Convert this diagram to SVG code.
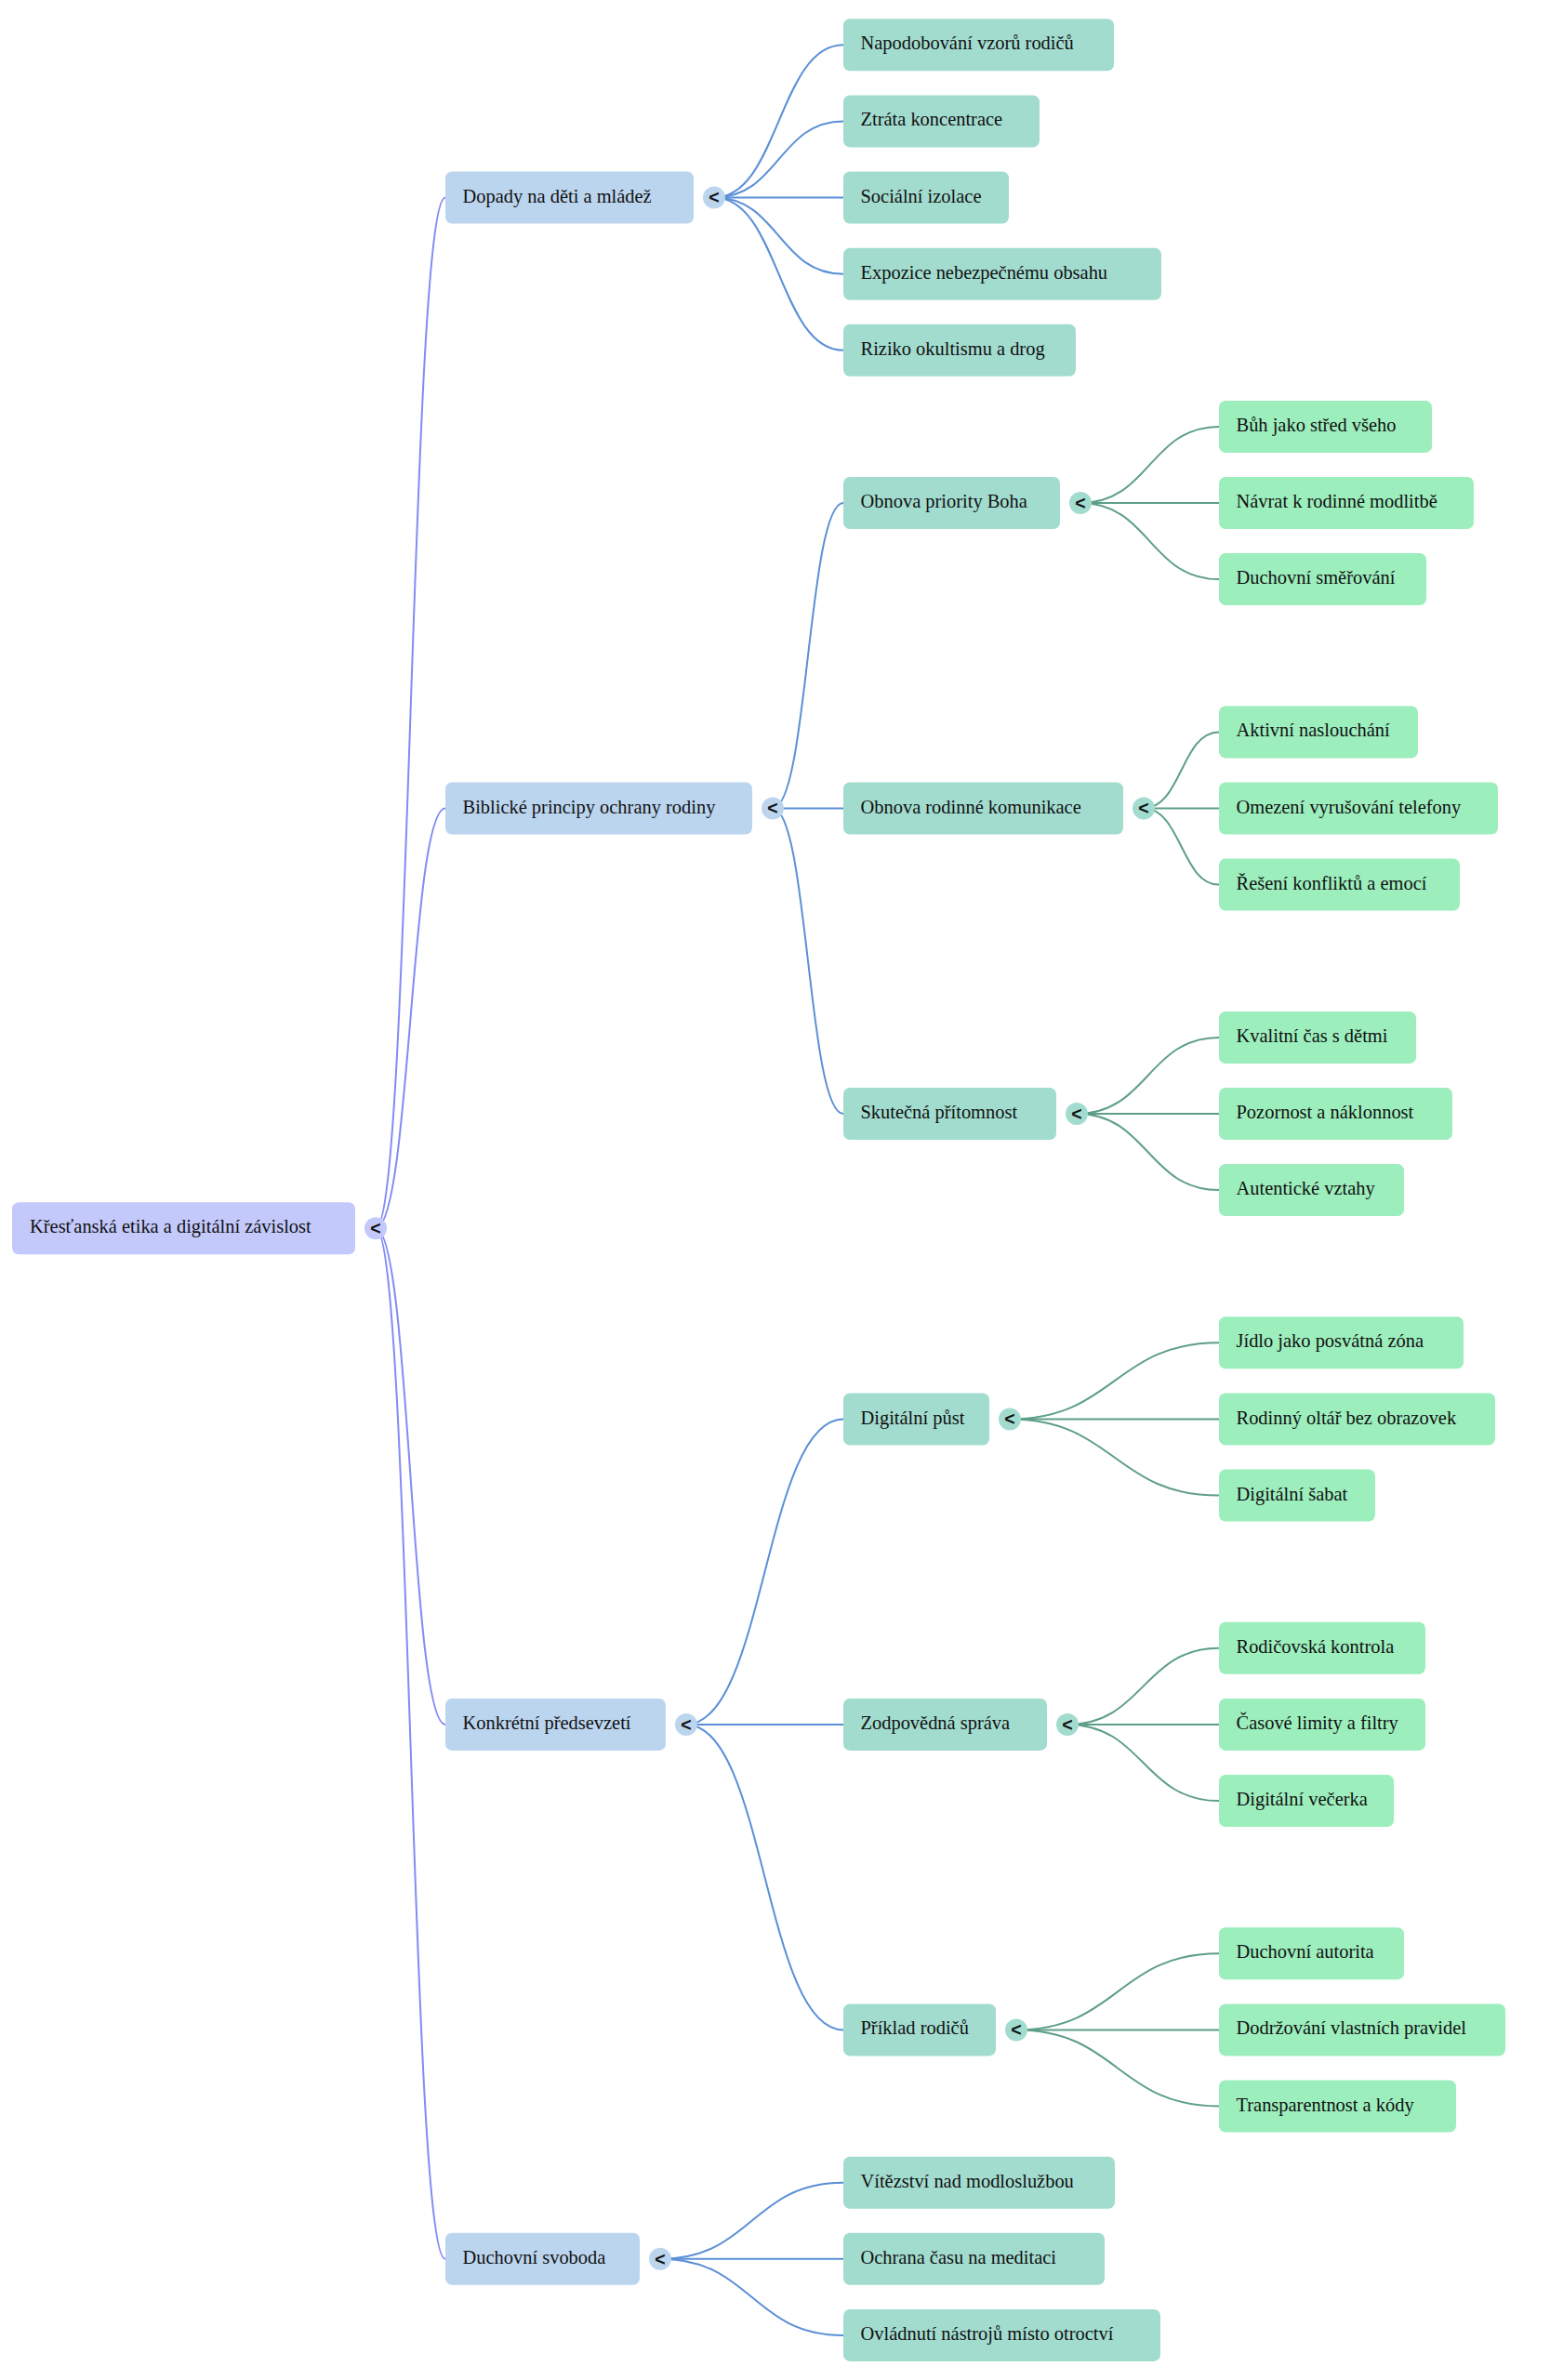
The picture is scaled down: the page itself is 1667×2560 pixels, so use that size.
<svg xmlns="http://www.w3.org/2000/svg" width="1667" height="2560" viewBox="0 0 1667 2560">
<style>
.n rect{rx:7px;ry:7px}
.r0 rect,.r0 circle{fill:#c4c9fc}
.r1 rect,.r1 circle{fill:#bcd5ef}
.r2 rect,.r2 circle{fill:#a2dccf}
.r3 rect{fill:#9ceebd}
.n text.t{font-family:"Liberation Serif","Times New Roman",serif;font-size:20.45px;fill:#111}
.n text.g{font-family:"Liberation Sans",Arial,sans-serif;font-weight:bold;font-size:19.5px;fill:#111;text-anchor:middle}
.e path{fill:none;stroke-width:2}
.e0 path{stroke:#838bf6}
.e1 path{stroke:#5b8fd6}
.e2 path{stroke:#5e9e89}
</style>
<rect width="1667" height="2560" fill="#ffffff"/>
<g id="connectors" class="e">
<g class="e0">
<path d="M404,1321.2 C441.5,1321.2 441.5,212.5 479,212.5"/>
<path d="M404,1321.2 C441.5,1321.2 441.5,869.5 479,869.5"/>
<path d="M404,1321.2 C441.5,1321.2 441.5,1854.9 479,1854.9"/>
<path d="M404,1321.2 C441.5,1321.2 441.5,2429.8 479,2429.8"/>
</g>
<g class="e1">
<path d="M768,212.5 C837.5,212.5 837.5,48.3 907,48.3"/>
<path d="M768,212.5 C837.5,212.5 837.5,130.4 907,130.4"/>
<path d="M768,212.5 C837.5,212.5 837.5,212.5 907,212.5"/>
<path d="M768,212.5 C837.5,212.5 837.5,294.7 907,294.7"/>
<path d="M768,212.5 C837.5,212.5 837.5,376.8 907,376.8"/>
<path d="M831,869.5 C869,869.5 869,541 907,541"/>
<path d="M831,869.5 C869,869.5 869,869.5 907,869.5"/>
<path d="M831,869.5 C869,869.5 869,1198 907,1198"/>
<path d="M738,1854.9 C822.5,1854.9 822.5,1526.5 907,1526.5"/>
<path d="M738,1854.9 C822.5,1854.9 822.5,1854.9 907,1854.9"/>
<path d="M738,1854.9 C822.5,1854.9 822.5,2183.4 907,2183.4"/>
<path d="M710,2429.8 C808.5,2429.8 808.5,2347.7 907,2347.7"/>
<path d="M710,2429.8 C808.5,2429.8 808.5,2429.8 907,2429.8"/>
<path d="M710,2429.8 C808.5,2429.8 808.5,2511.9 907,2511.9"/>
</g>
<g class="e2">
<path d="M1162,541 C1236.5,541 1236.5,458.9 1311,458.9"/>
<path d="M1162,541 C1236.5,541 1236.5,541 1311,541"/>
<path d="M1162,541 C1236.5,541 1236.5,623.1 1311,623.1"/>
<path d="M1230,869.5 C1270.5,869.5 1270.5,787.4 1311,787.4"/>
<path d="M1230,869.5 C1270.5,869.5 1270.5,869.5 1311,869.5"/>
<path d="M1230,869.5 C1270.5,869.5 1270.5,951.6 1311,951.6"/>
<path d="M1158,1198 C1234.5,1198 1234.5,1115.9 1311,1115.9"/>
<path d="M1158,1198 C1234.5,1198 1234.5,1198 1311,1198"/>
<path d="M1158,1198 C1234.5,1198 1234.5,1280.1 1311,1280.1"/>
<path d="M1086,1526.5 C1198.5,1526.5 1198.5,1444.3 1311,1444.3"/>
<path d="M1086,1526.5 C1198.5,1526.5 1198.5,1526.5 1311,1526.5"/>
<path d="M1086,1526.5 C1198.5,1526.5 1198.5,1608.6 1311,1608.6"/>
<path d="M1148,1854.9 C1229.5,1854.9 1229.5,1772.8 1311,1772.8"/>
<path d="M1148,1854.9 C1229.5,1854.9 1229.5,1854.9 1311,1854.9"/>
<path d="M1148,1854.9 C1229.5,1854.9 1229.5,1937.1 1311,1937.1"/>
<path d="M1093,2183.4 C1202,2183.4 1202,2101.3 1311,2101.3"/>
<path d="M1093,2183.4 C1202,2183.4 1202,2183.4 1311,2183.4"/>
<path d="M1093,2183.4 C1202,2183.4 1202,2265.5 1311,2265.5"/>
</g>
</g>

<g id="root" class="n r0"><rect x="13" y="1293.2" width="369" height="56"/><text class="t" x="32" y="1326.2">Křesťanská etika a digitální závislost</text><circle cx="404" cy="1321.2" r="12"/><text class="g" x="404" y="1328">&lt;</text></g>

<g id="dopady" class="n r1"><rect x="479" y="184.5" width="267" height="56"/><text class="t" x="497.5" y="217.5">Dopady na děti a mládež</text><circle cx="768" cy="212.5" r="12"/><text class="g" x="768" y="219.3">&lt;</text></g>
<g id="biblicke" class="n r1"><rect x="479" y="841.5" width="330" height="56"/><text class="t" x="497.5" y="874.5">Biblické principy ochrany rodiny</text><circle cx="831" cy="869.5" r="12"/><text class="g" x="831" y="876.3">&lt;</text></g>
<g id="konkretni" class="n r1"><rect x="479" y="1826.9" width="237" height="56"/><text class="t" x="497.5" y="1859.9">Konkrétní předsevzetí</text><circle cx="738" cy="1854.9" r="12"/><text class="g" x="738" y="1861.7">&lt;</text></g>
<g id="svoboda" class="n r1"><rect x="479" y="2401.8" width="209" height="56"/><text class="t" x="497.5" y="2434.8">Duchovní svoboda</text><circle cx="710" cy="2429.8" r="12"/><text class="g" x="710" y="2436.6">&lt;</text></g>

<g id="napodobovani" class="n r2"><rect x="907" y="20.3" width="291" height="56"/><text class="t" x="925.5" y="53.3">Napodobování vzorů rodičů</text></g>
<g id="ztrata" class="n r2"><rect x="907" y="102.4" width="211" height="56"/><text class="t" x="925.5" y="135.4">Ztráta koncentrace</text></g>
<g id="izolace" class="n r2"><rect x="907" y="184.5" width="178" height="56"/><text class="t" x="925.5" y="217.5">Sociální izolace</text></g>
<g id="expozice" class="n r2"><rect x="907" y="266.7" width="342" height="56"/><text class="t" x="925.5" y="299.7">Expozice nebezpečnému obsahu</text></g>
<g id="riziko" class="n r2"><rect x="907" y="348.8" width="250" height="56"/><text class="t" x="925.5" y="381.8">Riziko okultismu a drog</text></g>
<g id="priorita" class="n r2"><rect x="907" y="513" width="233" height="56"/><text class="t" x="925.5" y="546">Obnova priority Boha</text><circle cx="1162" cy="541" r="12"/><text class="g" x="1162" y="547.8">&lt;</text></g>
<g id="komunikace" class="n r2"><rect x="907" y="841.5" width="301" height="56"/><text class="t" x="925.5" y="874.5">Obnova rodinné komunikace</text><circle cx="1230" cy="869.5" r="12"/><text class="g" x="1230" y="876.3">&lt;</text></g>
<g id="pritomnost" class="n r2"><rect x="907" y="1170" width="229" height="56"/><text class="t" x="925.5" y="1203">Skutečná přítomnost</text><circle cx="1158" cy="1198" r="12"/><text class="g" x="1158" y="1204.8">&lt;</text></g>
<g id="pust" class="n r2"><rect x="907" y="1498.5" width="157" height="56"/><text class="t" x="925.5" y="1531.5">Digitální půst</text><circle cx="1086" cy="1526.5" r="12"/><text class="g" x="1086" y="1533.3">&lt;</text></g>
<g id="sprava" class="n r2"><rect x="907" y="1826.9" width="219" height="56"/><text class="t" x="925.5" y="1859.9">Zodpovědná správa</text><circle cx="1148" cy="1854.9" r="12"/><text class="g" x="1148" y="1861.7">&lt;</text></g>
<g id="priklad" class="n r2"><rect x="907" y="2155.4" width="164" height="56"/><text class="t" x="925.5" y="2188.4">Příklad rodičů</text><circle cx="1093" cy="2183.4" r="12"/><text class="g" x="1093" y="2190.2">&lt;</text></g>
<g id="vitezstvi" class="n r2"><rect x="907" y="2319.7" width="292" height="56"/><text class="t" x="925.5" y="2352.7">Vítězství nad modloslužbou</text></g>
<g id="ochrana" class="n r2"><rect x="907" y="2401.8" width="281" height="56"/><text class="t" x="925.5" y="2434.8">Ochrana času na meditaci</text></g>
<g id="ovladnuti" class="n r2"><rect x="907" y="2483.9" width="341" height="56"/><text class="t" x="925.5" y="2516.9">Ovládnutí nástrojů místo otroctví</text></g>

<g id="buh" class="n r3"><rect x="1311" y="430.9" width="229" height="56"/><text class="t" x="1329.5" y="463.9">Bůh jako střed všeho</text></g>
<g id="navrat" class="n r3"><rect x="1311" y="513" width="274" height="56"/><text class="t" x="1329.5" y="546">Návrat k rodinné modlitbě</text></g>
<g id="smerovani" class="n r3"><rect x="1311" y="595.1" width="223" height="56"/><text class="t" x="1329.5" y="628.1">Duchovní směřování</text></g>
<g id="naslouchani" class="n r3"><rect x="1311" y="759.4" width="214" height="56"/><text class="t" x="1329.5" y="792.4">Aktivní naslouchání</text></g>
<g id="omezeni" class="n r3"><rect x="1311" y="841.5" width="300" height="56"/><text class="t" x="1329.5" y="874.5">Omezení vyrušování telefony</text></g>
<g id="reseni" class="n r3"><rect x="1311" y="923.6" width="259" height="56"/><text class="t" x="1329.5" y="956.6">Řešení konfliktů a emocí</text></g>
<g id="kvalitni" class="n r3"><rect x="1311" y="1087.9" width="212" height="56"/><text class="t" x="1329.5" y="1120.9">Kvalitní čas s dětmi</text></g>
<g id="pozornost" class="n r3"><rect x="1311" y="1170" width="251" height="56"/><text class="t" x="1329.5" y="1203">Pozornost a náklonnost</text></g>
<g id="autenticke" class="n r3"><rect x="1311" y="1252.1" width="199" height="56"/><text class="t" x="1329.5" y="1285.1">Autentické vztahy</text></g>
<g id="jidlo" class="n r3"><rect x="1311" y="1416.3" width="263" height="56"/><text class="t" x="1329.5" y="1449.3">Jídlo jako posvátná zóna</text></g>
<g id="oltar" class="n r3"><rect x="1311" y="1498.5" width="297" height="56"/><text class="t" x="1329.5" y="1531.5">Rodinný oltář bez obrazovek</text></g>
<g id="sabat" class="n r3"><rect x="1311" y="1580.6" width="168" height="56"/><text class="t" x="1329.5" y="1613.6">Digitální šabat</text></g>
<g id="kontrola" class="n r3"><rect x="1311" y="1744.8" width="222" height="56"/><text class="t" x="1329.5" y="1777.8">Rodičovská kontrola</text></g>
<g id="limity" class="n r3"><rect x="1311" y="1826.9" width="222" height="56"/><text class="t" x="1329.5" y="1859.9">Časové limity a filtry</text></g>
<g id="vecerka" class="n r3"><rect x="1311" y="1909.1" width="188" height="56"/><text class="t" x="1329.5" y="1942.1">Digitální večerka</text></g>
<g id="autorita" class="n r3"><rect x="1311" y="2073.3" width="199" height="56"/><text class="t" x="1329.5" y="2106.3">Duchovní autorita</text></g>
<g id="dodrzovani" class="n r3"><rect x="1311" y="2155.4" width="308" height="56"/><text class="t" x="1329.5" y="2188.4">Dodržování vlastních pravidel</text></g>
<g id="transparentnost" class="n r3"><rect x="1311" y="2237.5" width="255" height="56"/><text class="t" x="1329.5" y="2270.5">Transparentnost a kódy</text></g>
</svg>
